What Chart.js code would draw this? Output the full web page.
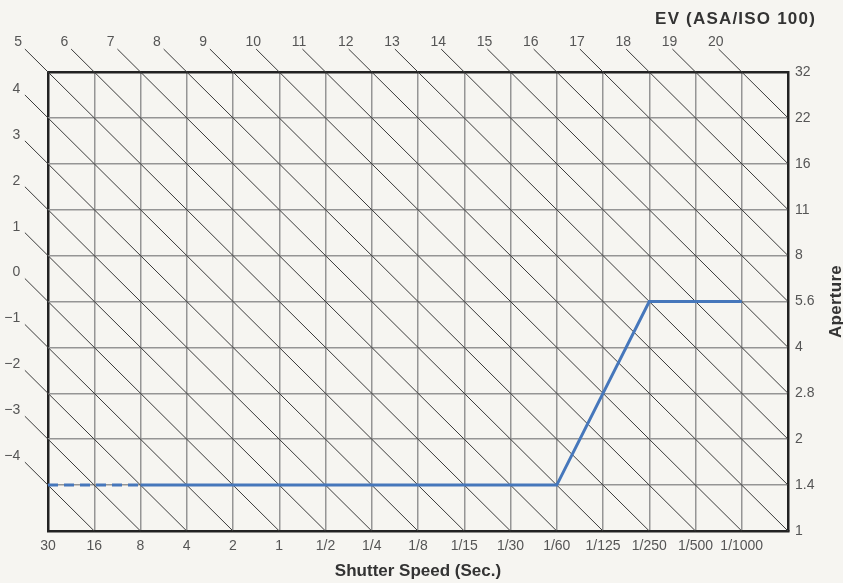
<!DOCTYPE html>
<html>
<head>
<meta charset="utf-8">
<script src="https://cdn.jsdelivr.net/npm/chart.js@4.4.1/dist/chart.umd.min.js"></script>
<style>
  body { margin: 0; background: #f6f5f1; }
  #wrap { width: 843px; height: 583px; position: relative; }
</style>
</head>
<body>
<div id="wrap"><canvas id="myChart"></canvas></div>
<script>
// velocidades de obturacion (eje x) y diafragmas (eje y)
const shutterSpeeds = ['30', '16', '8', '4', '2', '1', '1/2', '1/4', '1/8', '1/15', '1/30', '1/60', '1/125', '1/250', '1/500', '1/1000'];
const apertures = ['1', '1.4', '2', '2.8', '4', '5.6', '8', '11', '16', '22', '32'];
// valores EV de las diagonales
const evValues = [-4, -3, -2, -1, 0, 1, 2, 3, 4, 5, 6, 7, 8, 9, 10, 11, 12, 13, 14, 15, 16, 17, 18, 19, 20];
// curva del programa
const programShutter = ['30', '8', '1/60', '1/250', '1/1000'];
const programAperture = ['1.4', '1.4', '1.4', '5.6', '5.6'];

const FONT = '"Liberation Sans", Arial, sans-serif';
const nCols = shutterSpeeds.length;      // 16 columnas
const nRows = apertures.length - 1;      // 10 filas

function grafico_programa() {
  const ctx = document.getElementById('myChart');

  // puntos de la curva del programa
  const prog = programShutter.map((s, k) => ({
    x: shutterSpeeds.indexOf(s),
    y: apertures.indexOf(programAperture[k])
  }));

  // diagonales EV: EV = indice obturador + indice diafragma - 5
  const diagonales = evValues.map(ev => {
    const s = ev + 5;
    const i0 = Math.max(0, s - nRows);
    const i1 = Math.min(nCols, s);
    return {
      data: [
        { x: i0 - 0.5, y: s - i0 + 0.5 },
        { x: i0, y: s - i0 },
        { x: i1, y: s - i1 }
      ],
      borderColor: '#3a3a3a',
      borderWidth: 1,
      pointRadius: 0,
      showLine: true,
      clip: false
    };
  });

  // textos extra: numeros EV y titulos
  const textos = {
    id: 'textos',
    afterDraw(chart) {
      const { ctx, chartArea, scales: { x, y } } = chart;
      ctx.save();
      ctx.fillStyle = '#555';
      ctx.font = '14px ' + FONT;
      ctx.textBaseline = 'middle';
      evValues.forEach(ev => {
        const s = ev + 5;
        const i0 = Math.max(0, s - nRows);
        const j0 = s - i0;
        const txt = ev < 0 ? '\u2212' + Math.abs(ev) : String(ev);
        if (j0 === nRows) {
          ctx.textAlign = 'left';
          ctx.fillText(txt, x.getPixelForValue(i0 - 0.73), y.getPixelForValue(j0 + 0.65));
        } else {
          ctx.textAlign = 'right';
          ctx.fillText(txt, x.getPixelForValue(i0 - 0.6), y.getPixelForValue(j0 + 0.63));
        }
      });

      ctx.fillStyle = '#333';
      ctx.font = 'bold 17px ' + FONT;
      ctx.letterSpacing = '1.2px';
      ctx.textAlign = 'right';
      ctx.fillText('EV (ASA/ISO 100)', chartArea.right + 28, chartArea.top - 53);

      ctx.letterSpacing = '0.3px';
      ctx.textAlign = 'center';
      ctx.translate(chartArea.right + 48, (chartArea.top + chartArea.bottom) / 2);
      ctx.rotate(-Math.PI / 2);
      ctx.fillText('Aperture', 0, 0);
      ctx.restore();
    }
  };

  new Chart(ctx, {
    type: 'scatter',
    data: {
      datasets: [
        {
          data: prog.slice(1),
          borderColor: '#4677bb',
          borderWidth: 3,
          pointRadius: 0,
          showLine: true
        },
        {
          data: prog.slice(0, 2),
          borderColor: '#4677bb',
          borderWidth: 3,
          borderDash: [10, 6],
          pointRadius: 0,
          showLine: true
        },
        ...diagonales
      ]
    },
    options: {
      responsive: true,
      maintainAspectRatio: false,
      animation: false,
      layout: { padding: { left: 48, top: 72, right: 0, bottom: 0 } },
      plugins: {
        legend: { display: false },
        tooltip: { enabled: false }
      },
      scales: {
        x: {
          type: 'linear',
          min: 0,
          max: nCols,
          afterFit: axis => { axis.height = 52; },
          ticks: {
            stepSize: 1,
            autoSkip: false,
            maxRotation: 0,
            padding: 7,
            color: '#555',
            font: { family: FONT, size: 14 },
            callback: v => shutterSpeeds[v] ?? ''
          },
          grid: {
            drawTicks: false,
            color: c => c.tick.value === 0 ? '#222' : '#959595',
            lineWidth: c => c.tick.value === 0 ? 2.5 : 1.5
          },
          border: { color: '#222', width: 2.5 },
          title: {
            display: true,
            text: 'Shutter Speed (Sec.)',
            color: '#333',
            font: { family: FONT, size: 17, weight: 'bold' },
            padding: { top: 0, bottom: 1 }
          }
        },
        y: {
          type: 'linear',
          position: 'right',
          min: 0,
          max: nRows,
          afterFit: axis => { axis.width = 55; },
          ticks: {
            stepSize: 1,
            padding: 7,
            color: '#555',
            font: { family: FONT, size: 14 },
            callback: v => apertures[v]
          },
          grid: {
            drawTicks: false,
            color: c => c.tick.value === nRows ? '#222' : '#959595',
            lineWidth: c => c.tick.value === nRows ? 2.5 : 1.5
          },
          border: { color: '#222', width: 2.5 }
        }
      }
    },
    plugins: [textos]
  });
}

grafico_programa();
</script>
</body>
</html>
